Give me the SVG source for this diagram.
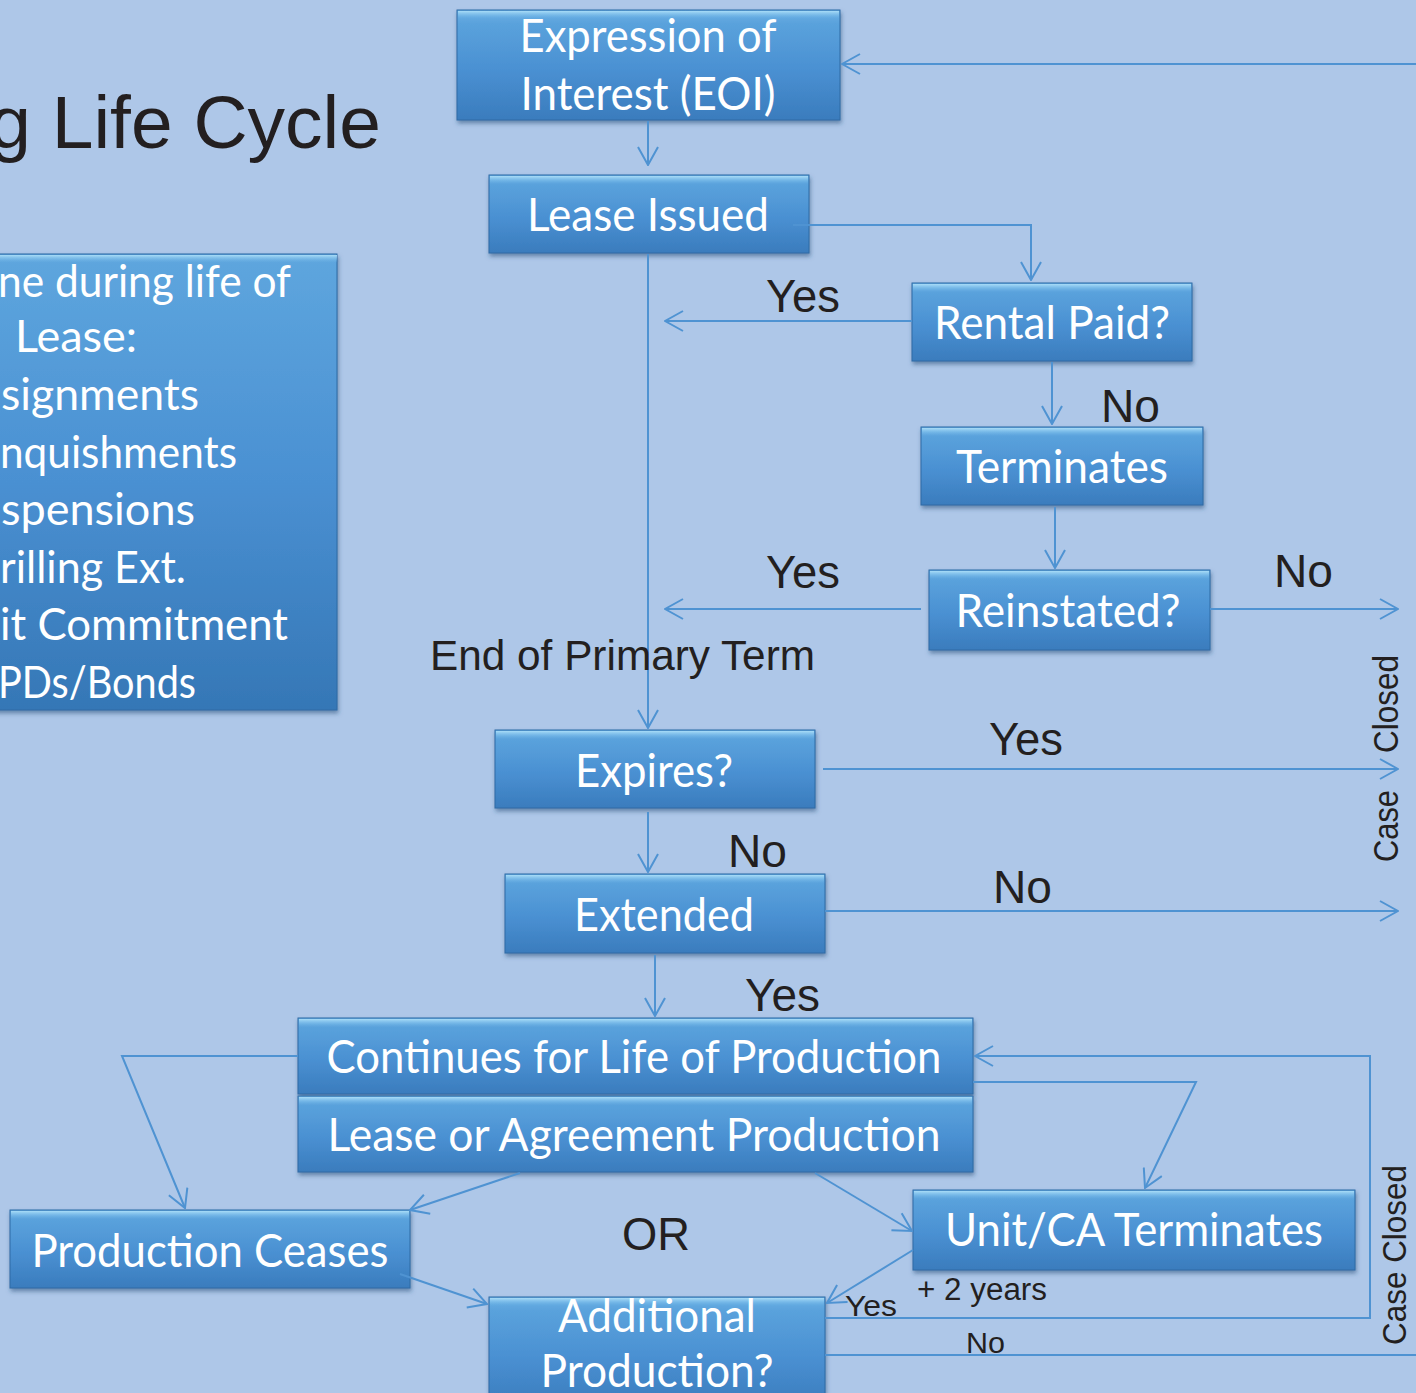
<svg xmlns="http://www.w3.org/2000/svg" width="1416" height="1393" viewBox="0 0 1416 1393">
<defs>
<linearGradient id="bx" x1="0" y1="0" x2="0" y2="1">
<stop offset="0" stop-color="#6cb2e6"/>
<stop offset="0.12" stop-color="#5aa2dc"/>
<stop offset="0.55" stop-color="#4a90d2"/>
<stop offset="1" stop-color="#3a7cbd"/>
</linearGradient>
<linearGradient id="hl" x1="0" y1="0" x2="0" y2="1">
<stop offset="0" stop-color="#a8dcf7"/>
<stop offset="1" stop-color="#6cb2e6" stop-opacity="0"/>
</linearGradient>
<linearGradient id="lb" x1="0" y1="0" x2="0" y2="1">
<stop offset="0" stop-color="#5ea6de"/>
<stop offset="0.5" stop-color="#4a90d2"/>
<stop offset="1" stop-color="#3577b6"/>
</linearGradient>
<filter id="sh" x="-5%" y="-10%" width="110%" height="130%">
<feDropShadow dx="1" dy="3" stdDeviation="2" flood-color="#2a4f7a" flood-opacity="0.55"/>
</filter>
<marker id="ar" viewBox="0 0 20 22" refX="19" refY="11" markerWidth="20" markerHeight="22" markerUnits="userSpaceOnUse" orient="auto">
<path d="M1,1 L19,11 L1,21" fill="none" stroke="#4f93d2" stroke-width="2"/>
</marker>
</defs>
<style>
.box{fill:url(#bx);stroke:#2f6aa5;stroke-width:1;filter:url(#sh)}
.hi{fill:url(#hl)}
.bt{font-family:Lato,"Open Sans",sans-serif;font-size:46px;fill:#ffffff;text-anchor:middle}
.lt{font-family:Lato,"Open Sans",sans-serif;font-size:44px;fill:#ffffff}
.lab{font-family:"Liberation Sans",Arial,sans-serif;fill:#231f20}
.c{fill:none;stroke:#4f93d2;stroke-width:2}
</style>
<rect x="0" y="0" width="1416" height="1393" fill="#aec7e8"/>

<text class="lab" x="381" y="148" font-size="75" text-anchor="end">g Life Cycle</text>

<g id="notes">
<rect class="box" x="-10" y="254" width="347" height="456" style="fill:url(#lb)"/>
<rect class="hi" x="-10" y="255" width="347" height="8"/>
<text class="lt" x="-2" y="297" textLength="293" lengthAdjust="spacingAndGlyphs">ne during life of</text>
<text class="lt" x="15" y="352" textLength="122" lengthAdjust="spacingAndGlyphs">Lease:</text>
<text class="lt" x="1" y="410" textLength="198" lengthAdjust="spacingAndGlyphs">signments</text>
<text class="lt" x="0" y="468" textLength="237" lengthAdjust="spacingAndGlyphs">nquishments</text>
<text class="lt" x="1" y="525" textLength="194" lengthAdjust="spacingAndGlyphs">spensions</text>
<text class="lt" x="0" y="583" textLength="186" lengthAdjust="spacingAndGlyphs">rilling Ext.</text>
<text class="lt" x="0" y="640" textLength="288" lengthAdjust="spacingAndGlyphs">it Commitment</text>
<text class="lt" x="-2" y="698" textLength="198" lengthAdjust="spacingAndGlyphs">PDs/Bonds</text>
</g>

<g id="eoi">
<rect class="box" x="457" y="10" width="383" height="110"/>
<rect class="hi" x="458" y="11" width="381" height="8"/>
<text class="bt" x="648" y="52" textLength="257" lengthAdjust="spacingAndGlyphs">Expression of</text>
<text class="bt" x="648" y="110" textLength="255" lengthAdjust="spacingAndGlyphs">Interest (EOI)</text>
</g>

<g id="lease-issued">
<rect class="box" x="489" y="175" width="320" height="78"/>
<rect class="hi" x="490" y="176" width="318" height="8"/>
<text class="bt" x="648" y="231" textLength="242" lengthAdjust="spacingAndGlyphs">Lease Issued</text>
</g>

<g id="rental-paid">
<rect class="box" x="912" y="283" width="280" height="78"/>
<rect class="hi" x="913" y="284" width="278" height="8"/>
<text class="bt" x="1052" y="339" textLength="236" lengthAdjust="spacingAndGlyphs">Rental Paid?</text>
</g>

<g id="terminates">
<rect class="box" x="921" y="427" width="282" height="78"/>
<rect class="hi" x="922" y="428" width="280" height="8"/>
<text class="bt" x="1062" y="483" textLength="212" lengthAdjust="spacingAndGlyphs">Terminates</text>
</g>

<g id="reinstated">
<rect class="box" x="929" y="570" width="281" height="80"/>
<rect class="hi" x="930" y="571" width="279" height="8"/>
<text class="bt" x="1068" y="627" textLength="225" lengthAdjust="spacingAndGlyphs">Reinstated?</text>
</g>

<g id="expires">
<rect class="box" x="495" y="730" width="320" height="78"/>
<rect class="hi" x="496" y="731" width="318" height="8"/>
<text class="bt" x="654" y="787" textLength="158" lengthAdjust="spacingAndGlyphs">Expires?</text>
</g>

<g id="extended">
<rect class="box" x="505" y="874" width="320" height="79"/>
<rect class="hi" x="506" y="875" width="318" height="8"/>
<text class="bt" x="664" y="931" textLength="180" lengthAdjust="spacingAndGlyphs">Extended</text>
</g>

<g id="continues">
<rect class="box" x="298" y="1018" width="675" height="76"/>
<rect class="hi" x="299" y="1019" width="673" height="8"/>
<text class="bt" x="634" y="1073" textLength="615" lengthAdjust="spacingAndGlyphs">Continues for Life of Production</text>
</g>

<g id="lease-agreement">
<rect class="box" x="298" y="1096" width="675" height="76"/>
<rect class="hi" x="299" y="1097" width="673" height="8"/>
<text class="bt" x="634" y="1151" textLength="613" lengthAdjust="spacingAndGlyphs">Lease or Agreement Production</text>
</g>

<g id="production-ceases">
<rect class="box" x="10" y="1210" width="400" height="78"/>
<rect class="hi" x="11" y="1211" width="398" height="8"/>
<text class="bt" x="210" y="1267" textLength="357" lengthAdjust="spacingAndGlyphs">Production Ceases</text>
</g>

<g id="unit-ca">
<rect class="box" x="913" y="1190" width="442" height="80"/>
<rect class="hi" x="914" y="1191" width="440" height="8"/>
<text class="bt" x="1134" y="1246" textLength="378" lengthAdjust="spacingAndGlyphs">Unit/CA Terminates</text>
</g>

<g id="additional">
<rect class="box" x="489" y="1297" width="336" height="110"/>
<rect class="hi" x="490" y="1298" width="334" height="8"/>
<text class="bt" x="657" y="1332" textLength="198" lengthAdjust="spacingAndGlyphs">Additional</text>
<text class="bt" x="657" y="1387" textLength="233" lengthAdjust="spacingAndGlyphs">Production?</text>
</g>

<g id="connectors">
<path class="c" d="M648,121 V165" marker-end="url(#ar)"/>
<path class="c" d="M1416,64 H842" marker-end="url(#ar)"/>
<path class="c" d="M793,225 H1031 V280" marker-end="url(#ar)"/>
<path class="c" d="M648,254 V728" marker-end="url(#ar)"/>
<path class="c" d="M912,321 H665" marker-end="url(#ar)"/>
<path class="c" d="M1052,362 V424" marker-end="url(#ar)"/>
<path class="c" d="M1055,507 V568" marker-end="url(#ar)"/>
<path class="c" d="M921,609 H665" marker-end="url(#ar)"/>
<path class="c" d="M1210,609 H1398" marker-end="url(#ar)"/>
<path class="c" d="M823,769 H1398" marker-end="url(#ar)"/>
<path class="c" d="M648,812 V872" marker-end="url(#ar)"/>
<path class="c" d="M825,911 H1398" marker-end="url(#ar)"/>
<path class="c" d="M655,955 V1016" marker-end="url(#ar)"/>
<path class="c" d="M298,1056 H122 L185,1208" marker-end="url(#ar)"/>
<path class="c" d="M520,1173 L410,1210" marker-end="url(#ar)"/>
<path class="c" d="M815,1173 L912,1231" marker-end="url(#ar)"/>
<path class="c" d="M825,1318 H1370 V1056 H975" marker-end="url(#ar)"/>
<path class="c" d="M973,1082 H1196 L1145,1188" marker-end="url(#ar)"/>
<path class="c" d="M913,1250 L827,1303" marker-end="url(#ar)"/>
<path class="c" d="M400,1274 L487,1304" marker-end="url(#ar)"/>
<path class="c" d="M825,1355 H1416"/>
</g>

<g id="labels">
<text class="lab" x="766" y="312" font-size="46" textLength="74" lengthAdjust="spacingAndGlyphs">Yes</text>
<text class="lab" x="1101" y="422" font-size="46" textLength="59" lengthAdjust="spacingAndGlyphs">No</text>
<text class="lab" x="766" y="588" font-size="46" textLength="74" lengthAdjust="spacingAndGlyphs">Yes</text>
<text class="lab" x="1274" y="587" font-size="46" textLength="59" lengthAdjust="spacingAndGlyphs">No</text>
<text class="lab" x="430" y="670" font-size="42" textLength="385" lengthAdjust="spacingAndGlyphs">End of Primary Term</text>
<text class="lab" x="989" y="755" font-size="46" textLength="74" lengthAdjust="spacingAndGlyphs">Yes</text>
<text class="lab" x="728" y="867" font-size="46" textLength="59" lengthAdjust="spacingAndGlyphs">No</text>
<text class="lab" x="993" y="903" font-size="46" textLength="59" lengthAdjust="spacingAndGlyphs">No</text>
<text class="lab" x="745" y="1011" font-size="46" textLength="75" lengthAdjust="spacingAndGlyphs">Yes</text>
<text class="lab" x="622" y="1250" font-size="46" textLength="68" lengthAdjust="spacingAndGlyphs">OR</text>
<text class="lab" x="917" y="1300" font-size="31" textLength="130" lengthAdjust="spacingAndGlyphs">+ 2 years</text>
<text class="lab" x="845" y="1316" font-size="30" textLength="52" lengthAdjust="spacingAndGlyphs">Yes</text>
<text class="lab" x="966" y="1353" font-size="30" textLength="39" lengthAdjust="spacingAndGlyphs">No</text>
<text class="lab" transform="translate(1398,0) rotate(-90)" font-size="35"><tspan x="-862" textLength="72" lengthAdjust="spacingAndGlyphs">Case</tspan> <tspan x="-753" textLength="98" lengthAdjust="spacingAndGlyphs">Closed</tspan></text>
<text class="lab" transform="translate(1406,1255) rotate(-90)" font-size="34" text-anchor="middle" textLength="180" lengthAdjust="spacingAndGlyphs">Case Closed</text>
</g>
</svg>
